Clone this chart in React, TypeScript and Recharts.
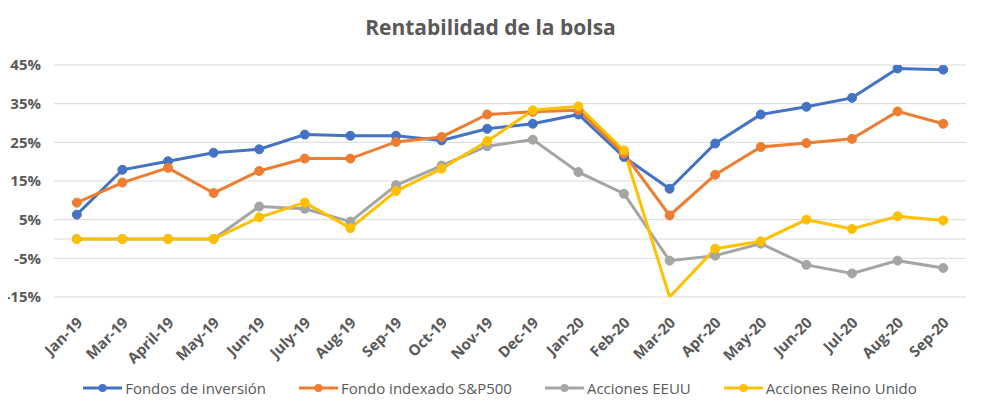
import React from 'react';
import { LineChart, Line, CartesianGrid, XAxis, YAxis, Legend, ReferenceLine } from 'recharts';

const months = [
  'Jan-19', 'Mar-19', 'April-19', 'May-19', 'Jun-19', 'July-19', 'Aug-19', 'Sep-19', 'Oct-19', 'Nov-19',
  'Dec-19', 'Jan-20', 'Feb-20', 'Mar-20', 'Apr-20', 'May-20', 'Jun-20', 'Jul-20', 'Aug-20', 'Sep-20',
];
const fondos = [6.3, 17.9, 20.1, 22.3, 23.2, 27.0, 26.7, 26.7, 25.5, 28.5, 29.8, 32.2, 21.2, 13.0, 24.7, 32.2, 34.2, 36.5, 44.1, 43.8];
const sp500 = [9.4, 14.6, 18.4, 11.9, 17.6, 20.8, 20.8, 25.1, 26.4, 32.2, 32.9, 33.3, 22.1, 6.1, 16.6, 23.8, 24.8, 25.9, 33.0, 29.8];
const eeuu = [0, 0, 0, 0, 8.4, 7.8, 4.5, 13.9, 19.0, 24.0, 25.7, 17.3, 11.7, -5.6, -4.3, -1.2, -6.7, -8.9, -5.6, -7.5];
const reinoUnido = [0, 0, 0, 0, 5.6, 9.4, 2.8, 12.4, 18.2, 25.3, 33.3, 34.3, 22.9, -15, -2.5, -0.6, 5.0, 2.6, 5.9, 4.8];
const yTicks = [-15, -5, 5, 15, 25, 35, 45];

const series = [
  { key: 'fondos', name: 'Fondos de inversión', color: '#4472C4' },
  { key: 'sp500', name: 'Fondo indexado S&P500', color: '#ED7D31' },
  { key: 'eeuu', name: 'Acciones EEUU', color: '#A5A5A5' },
  { key: 'reinoUnido', name: 'Acciones Reino Unido', color: '#FFC000' },
];

const data = months.map((m, i) => ({
  month: m,
  fondos: fondos[i],
  sp500: sp500[i],
  eeuu: eeuu[i],
  reinoUnido: reinoUnido[i],
}));

const textColor = '#595959';
const font = '"Open Sans", Lato, sans-serif';

const MonthTick = (props: any) => {
  const { x, y, payload } = props;
  return (
    <g transform={`translate(${x + 3},${y + 15})`}>
      <text transform="rotate(-45)" textAnchor="end" dy="0.35em" fill={textColor} fontSize={15} fontWeight={700} fontFamily={font}>
        {payload.value}
      </text>
    </g>
  );
};

// markers below the axis minimum are not drawn (Excel clips them)
const makeDot = (color: string) => (props: any) => {
  const { cx, cy, value, index } = props;
  if (value == null || value <= -15) return <g key={`d-${index}`} />;
  return <circle key={`d-${index}`} cx={cx} cy={cy} r={4.5} fill={color} stroke={color} />;
};

const LegendContent = () => (
  <div style={{ display: 'flex', justifyContent: 'center', gap: 33, height: 20, alignItems: 'center', marginLeft: 26 }}>
    {series.map((s) => (
      <div key={s.key} style={{ display: 'flex', alignItems: 'center', fontFamily: font, fontSize: 15, color: textColor }}>
        <svg width={39} height={12} style={{ marginRight: 3 }}>
          <line x1={0} y1={6} x2={39} y2={6} stroke={s.color} strokeWidth={3} />
          <circle cx={19.5} cy={6} r={4} fill={s.color} />
        </svg>
        {s.name}
      </div>
    ))}
  </div>
);

const App = () => {
  return (
    <div style={{ position: 'relative', width: 965, height: 393, fontFamily: font }}>
      <div
        style={{
          position: 'absolute', top: 5, left: 0, width: 965, textAlign: 'center',
          fontSize: 21, fontWeight: 700, color: textColor, fontFamily: font,
        }}
      >
        Rentabilidad de la bolsa
      </div>
      <LineChart width={965} height={393} data={data} margin={{ top: 57, right: 7, bottom: 3, left: 0 }}>
        <CartesianGrid vertical={false} stroke="#D9D9D9" strokeWidth={1} />
        <ReferenceLine y={0} stroke="#D9D9D9" strokeWidth={1} />
        <XAxis
          dataKey="month"
          scale="band"
          interval={0}
          axisLine={false}
          tickLine={false}
          height={81}
          tick={<MonthTick />}
        />
        <YAxis
          domain={[-15, 45]}
          ticks={yTicks}
          allowDataOverflow
          width={46}
          axisLine={false}
          tickLine={false}
          tickSize={0}
          tickMargin={13}
          tickFormatter={(v: number) => `${v}%`}
          tick={{ fill: textColor, fontSize: 15, fontWeight: 700, fontFamily: font }}
        />
        <Legend verticalAlign="bottom" content={<LegendContent />} />
        {series.map((s) => (
          <Line
            key={s.key}
            type="linear"
            dataKey={s.key}
            name={s.name}
            stroke={s.color}
            strokeWidth={3}
            dot={makeDot(s.color)}
            activeDot={false}
            isAnimationActive={false}
          />
        ))}
      </LineChart>
    </div>
  );
};

export default App;
